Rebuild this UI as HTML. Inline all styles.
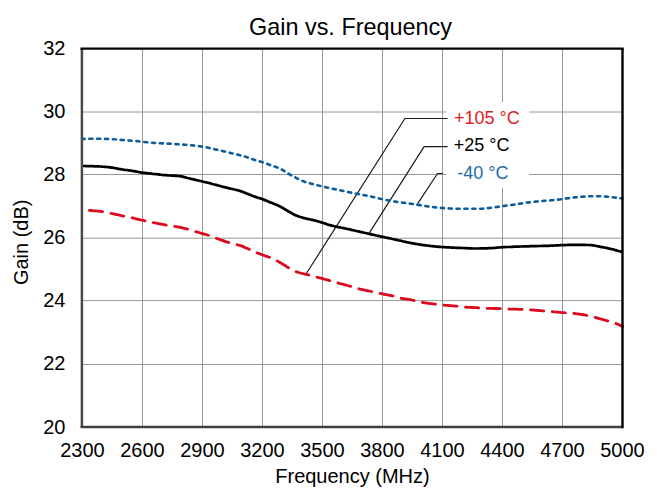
<!DOCTYPE html>
<html><head><meta charset="utf-8">
<style>
html,body{margin:0;padding:0;background:#fff;}
body{width:657px;height:493px;overflow:hidden;}
svg{display:block;}
text{font-family:"Liberation Sans",sans-serif;}
</style></head>
<body>
<svg width="657" height="493" viewBox="0 0 657 493">
<rect x="0" y="0" width="657" height="493" fill="#fff"/>
<g stroke="#989898" stroke-width="1.0" fill="none">
<line x1="142.50" y1="48.70" x2="142.50" y2="427.12"/>
<line x1="202.50" y1="48.70" x2="202.50" y2="427.12"/>
<line x1="262.50" y1="48.70" x2="262.50" y2="427.12"/>
<line x1="322.50" y1="48.70" x2="322.50" y2="427.12"/>
<line x1="382.50" y1="48.70" x2="382.50" y2="427.12"/>
<line x1="442.50" y1="48.70" x2="442.50" y2="427.12"/>
<line x1="502.50" y1="48.70" x2="502.50" y2="427.12"/>
<line x1="562.50" y1="48.70" x2="562.50" y2="427.12"/>
<line x1="82.50" y1="112.00" x2="622.50" y2="112.00"/>
<line x1="82.50" y1="174.50" x2="622.50" y2="174.50"/>
<line x1="82.50" y1="238.20" x2="622.50" y2="238.20"/>
<line x1="82.50" y1="300.60" x2="622.50" y2="300.60"/>
<line x1="82.50" y1="364.50" x2="622.50" y2="364.50"/>
</g>
<rect x="446" y="102" width="83" height="86" fill="#fff"/>
<g fill="none" stroke="#1a1a1a" stroke-width="1.2">
<polyline points="306.5,273.3 404.9,118.5 447.6,118.5"/>
<polyline points="369.2,233.1 424.1,146.7 447.6,146.7"/>
<polyline points="416.7,205.1 437.5,173.5 443,173.5"/>
</g>
<g fill="none" stroke-linejoin="round">
<path d="M82.50,139.00 C82.8,139.0 83.8,139.0 84.5,138.9 C85.2,138.9 85.8,138.9 86.5,138.9 C87.2,138.9 87.8,138.9 88.5,138.9 C89.2,138.8 89.8,138.8 90.5,138.8 C91.2,138.8 91.8,138.8 92.5,138.8 C93.2,138.8 93.8,138.8 94.5,138.8 C95.2,138.8 95.8,138.8 96.5,138.8 C97.2,138.8 97.8,138.8 98.5,138.8 C99.2,138.8 99.8,138.8 100.5,138.8 C101.2,138.8 101.8,138.8 102.5,138.8 C103.2,138.8 103.8,138.8 104.5,138.9 C105.2,138.9 105.8,138.9 106.5,138.9 C107.2,138.9 107.8,139.0 108.5,139.0 C109.2,139.0 109.8,139.1 110.5,139.1 C111.2,139.1 111.8,139.1 112.5,139.2 C113.2,139.2 113.8,139.2 114.5,139.3 C115.2,139.3 115.8,139.4 116.5,139.5 C117.2,139.5 117.8,139.6 118.5,139.7 C119.2,139.7 119.8,139.8 120.5,139.9 C121.2,139.9 121.8,140.0 122.5,140.0 C123.2,140.1 123.8,140.1 124.5,140.2 C125.2,140.2 125.8,140.3 126.5,140.3 C127.2,140.4 127.8,140.4 128.5,140.5 C129.2,140.5 129.8,140.6 130.5,140.6 C131.2,140.7 131.8,140.7 132.5,140.8 C133.2,140.8 133.8,140.9 134.5,141.0 C135.2,141.0 135.8,141.1 136.5,141.1 C137.2,141.2 137.8,141.3 138.5,141.3 C139.2,141.4 139.8,141.5 140.5,141.5 C141.2,141.6 141.8,141.7 142.5,141.8 C143.2,141.8 143.8,141.9 144.5,142.0 C145.2,142.0 145.8,142.1 146.5,142.2 C147.2,142.3 147.8,142.3 148.5,142.4 C149.2,142.5 149.8,142.6 150.5,142.6 C151.2,142.7 151.8,142.8 152.5,142.8 C153.2,142.9 153.8,142.9 154.5,143.0 C155.2,143.0 155.8,143.1 156.5,143.1 C157.2,143.1 157.8,143.2 158.5,143.2 C159.2,143.2 159.8,143.2 160.5,143.3 C161.2,143.3 161.8,143.3 162.5,143.4 C163.2,143.4 163.8,143.4 164.5,143.4 C165.2,143.5 165.8,143.5 166.5,143.5 C167.2,143.6 167.8,143.6 168.5,143.6 C169.2,143.7 169.8,143.7 170.5,143.7 C171.2,143.8 171.8,143.8 172.5,143.9 C173.2,143.9 173.8,144.0 174.5,144.0 C175.2,144.1 175.8,144.1 176.5,144.1 C177.2,144.2 177.8,144.2 178.5,144.3 C179.2,144.3 179.8,144.4 180.5,144.4 C181.2,144.5 181.8,144.5 182.5,144.6 C183.2,144.6 183.8,144.7 184.5,144.7 C185.2,144.8 185.8,144.8 186.5,144.9 C187.2,144.9 187.8,145.0 188.5,145.1 C189.2,145.1 189.8,145.2 190.5,145.2 C191.2,145.3 191.8,145.4 192.5,145.4 C193.2,145.5 193.8,145.6 194.5,145.7 C195.2,145.7 195.8,145.8 196.5,145.9 C197.2,146.0 197.8,146.0 198.5,146.1 C199.2,146.2 199.8,146.3 200.5,146.4 C201.2,146.5 201.8,146.6 202.5,146.7 C203.2,146.8 203.8,146.9 204.5,147.0 C205.2,147.1 205.8,147.3 206.5,147.4 C207.2,147.5 207.8,147.7 208.5,147.8 C209.2,148.0 209.8,148.1 210.5,148.3 C211.2,148.4 211.8,148.6 212.5,148.7 C213.2,148.9 213.8,149.0 214.5,149.2 C215.2,149.3 215.8,149.5 216.5,149.6 C217.2,149.8 217.8,149.9 218.5,150.1 C219.2,150.2 219.8,150.4 220.5,150.5 C221.2,150.7 221.8,150.9 222.5,151.0 C223.2,151.2 223.8,151.3 224.5,151.5 C225.2,151.6 225.8,151.8 226.5,152.0 C227.2,152.1 227.8,152.3 228.5,152.4 C229.2,152.6 229.8,152.8 230.5,152.9 C231.2,153.1 231.8,153.2 232.5,153.4 C233.2,153.6 233.8,153.7 234.5,153.9 C235.2,154.0 235.8,154.2 236.5,154.4 C237.2,154.5 237.8,154.7 238.5,154.9 C239.2,155.0 239.8,155.2 240.5,155.4 C241.2,155.5 241.8,155.7 242.5,155.9 C243.2,156.1 243.8,156.3 244.5,156.5 C245.2,156.6 245.8,156.8 246.5,157.1 C247.2,157.3 247.8,157.5 248.5,157.7 C249.2,158.0 249.8,158.2 250.5,158.5 C251.2,158.7 251.8,158.9 252.5,159.2 C253.2,159.4 253.8,159.6 254.5,159.8 C255.2,160.1 255.8,160.3 256.5,160.5 C257.2,160.6 257.8,160.8 258.5,161.0 C259.2,161.2 259.8,161.4 260.5,161.6 C261.2,161.8 261.8,162.0 262.5,162.2 C263.2,162.4 263.8,162.6 264.5,162.9 C265.2,163.1 265.8,163.4 266.5,163.6 C267.2,163.8 267.8,164.1 268.5,164.3 C269.2,164.6 269.8,164.8 270.5,165.1 C271.2,165.3 271.8,165.5 272.5,165.8 C273.2,166.0 273.8,166.2 274.5,166.5 C275.2,166.7 275.8,166.9 276.5,167.2 C277.2,167.4 277.8,167.7 278.5,167.9 C279.2,168.2 279.8,168.5 280.5,168.8 C281.2,169.2 281.8,169.5 282.5,169.9 C283.2,170.3 283.8,170.7 284.5,171.2 C285.2,171.6 285.8,172.0 286.5,172.4 C287.2,172.9 287.8,173.3 288.5,173.7 C289.2,174.1 289.8,174.5 290.5,174.9 C291.2,175.3 291.8,175.6 292.5,176.0 C293.2,176.3 293.8,176.7 294.5,177.0 C295.2,177.4 295.8,177.7 296.5,178.1 C297.2,178.4 297.8,178.7 298.5,179.0 C299.2,179.4 299.8,179.7 300.5,180.0 C301.2,180.3 301.8,180.6 302.5,180.9 C303.2,181.2 303.8,181.5 304.5,181.7 C305.2,182.0 305.8,182.2 306.5,182.4 C307.2,182.6 307.8,182.7 308.5,182.9 C309.2,183.1 309.8,183.2 310.5,183.4 C311.2,183.6 311.8,183.7 312.5,183.9 C313.2,184.0 313.8,184.2 314.5,184.4 C315.2,184.5 315.8,184.7 316.5,184.9 C317.2,185.1 317.8,185.3 318.5,185.5 C319.2,185.6 319.8,185.8 320.5,186.0 C321.2,186.2 321.8,186.3 322.5,186.5 C323.2,186.7 323.8,186.8 324.5,187.0 C325.2,187.1 325.8,187.3 326.5,187.4 C327.2,187.6 327.8,187.7 328.5,187.8 C329.2,188.0 329.8,188.1 330.5,188.3 C331.2,188.4 331.8,188.5 332.5,188.7 C333.2,188.8 333.8,189.0 334.5,189.1 C335.2,189.2 335.8,189.4 336.5,189.5 C337.2,189.7 337.8,189.8 338.5,190.0 C339.2,190.1 339.8,190.2 340.5,190.4 C341.2,190.5 341.8,190.7 342.5,190.8 C343.2,191.0 343.8,191.1 344.5,191.2 C345.2,191.4 345.8,191.5 346.5,191.7 C347.2,191.8 347.8,192.0 348.5,192.1 C349.2,192.2 349.8,192.4 350.5,192.5 C351.2,192.6 351.8,192.8 352.5,192.9 C353.2,193.0 353.8,193.2 354.5,193.3 C355.2,193.4 355.8,193.5 356.5,193.7 C357.2,193.8 357.8,193.9 358.5,194.0 C359.2,194.2 359.8,194.3 360.5,194.4 C361.2,194.5 361.8,194.7 362.5,194.8 C363.2,194.9 363.8,195.1 364.5,195.2 C365.2,195.3 365.8,195.4 366.5,195.6 C367.2,195.7 367.8,195.8 368.5,196.0 C369.2,196.1 369.8,196.3 370.5,196.4 C371.2,196.6 371.8,196.7 372.5,196.9 C373.2,197.0 373.8,197.2 374.5,197.3 C375.2,197.5 375.8,197.7 376.5,197.8 C377.2,198.0 377.8,198.1 378.5,198.3 C379.2,198.5 379.8,198.6 380.5,198.8 C381.2,198.9 381.8,199.1 382.5,199.2 C383.2,199.3 383.8,199.5 384.5,199.6 C385.2,199.8 385.8,199.9 386.5,200.0 C387.2,200.2 387.8,200.3 388.5,200.4 C389.2,200.6 389.8,200.7 390.5,200.8 C391.2,200.9 391.8,201.1 392.5,201.2 C393.2,201.3 393.8,201.4 394.5,201.5 C395.2,201.6 395.8,201.7 396.5,201.8 C397.2,201.9 397.8,202.0 398.5,202.1 C399.2,202.2 399.8,202.3 400.5,202.4 C401.2,202.5 401.8,202.5 402.5,202.6 C403.2,202.7 403.8,202.8 404.5,202.9 C405.2,203.0 405.8,203.0 406.5,203.1 C407.2,203.2 407.8,203.3 408.5,203.4 C409.2,203.5 409.8,203.6 410.5,203.7 C411.2,203.8 411.8,203.9 412.5,204.0 C413.2,204.1 413.8,204.2 414.5,204.3 C415.2,204.4 415.8,204.5 416.5,204.6 C417.2,204.8 417.8,204.9 418.5,205.0 C419.2,205.1 419.8,205.2 420.5,205.3 C421.2,205.4 421.8,205.5 422.5,205.6 C423.2,205.7 423.8,205.8 424.5,205.9 C425.2,206.0 425.8,206.1 426.5,206.2 C427.2,206.3 427.8,206.4 428.5,206.5 C429.2,206.6 429.8,206.7 430.5,206.8 C431.2,206.8 431.8,206.9 432.5,207.0 C433.2,207.1 433.8,207.2 434.5,207.3 C435.2,207.4 435.8,207.4 436.5,207.5 C437.2,207.6 437.8,207.7 438.5,207.7 C439.2,207.8 439.8,207.8 440.5,207.9 C441.2,207.9 441.8,208.0 442.5,208.0 C443.2,208.1 443.8,208.1 444.5,208.2 C445.2,208.2 445.8,208.2 446.5,208.3 C447.2,208.3 447.8,208.4 448.5,208.4 C449.2,208.4 449.8,208.5 450.5,208.5 C451.2,208.6 451.8,208.6 452.5,208.6 C453.2,208.6 453.8,208.7 454.5,208.7 C455.2,208.7 455.8,208.7 456.5,208.8 C457.2,208.8 457.8,208.8 458.5,208.8 C459.2,208.8 459.8,208.8 460.5,208.8 C461.2,208.8 461.8,208.8 462.5,208.8 C463.2,208.8 463.8,208.8 464.5,208.8 C465.2,208.8 465.8,208.8 466.5,208.8 C467.2,208.8 467.8,208.8 468.5,208.8 C469.2,208.8 469.8,208.8 470.5,208.8 C471.2,208.8 471.8,208.8 472.5,208.8 C473.2,208.8 473.8,208.8 474.5,208.8 C475.2,208.8 475.8,208.8 476.5,208.8 C477.2,208.8 477.8,208.8 478.5,208.8 C479.2,208.8 479.8,208.8 480.5,208.8 C481.2,208.8 481.8,208.8 482.5,208.7 C483.2,208.7 483.8,208.6 484.5,208.5 C485.2,208.5 485.8,208.4 486.5,208.3 C487.2,208.2 487.8,208.1 488.5,208.1 C489.2,208.0 489.8,207.9 490.5,207.8 C491.2,207.8 491.8,207.7 492.5,207.6 C493.2,207.5 493.8,207.4 494.5,207.3 C495.2,207.2 495.8,207.1 496.5,207.0 C497.2,206.9 497.8,206.8 498.5,206.7 C499.2,206.7 499.8,206.6 500.5,206.5 C501.2,206.4 501.8,206.3 502.5,206.2 C503.2,206.1 503.8,206.0 504.5,205.9 C505.2,205.8 505.8,205.7 506.5,205.6 C507.2,205.6 507.8,205.5 508.5,205.4 C509.2,205.3 509.8,205.2 510.5,205.1 C511.2,205.0 511.8,204.9 512.5,204.9 C513.2,204.8 513.8,204.7 514.5,204.6 C515.2,204.5 515.8,204.4 516.5,204.3 C517.2,204.2 517.8,204.1 518.5,203.9 C519.2,203.8 519.8,203.7 520.5,203.6 C521.2,203.5 521.8,203.4 522.5,203.3 C523.2,203.2 523.8,203.1 524.5,203.0 C525.2,202.9 525.8,202.8 526.5,202.7 C527.2,202.6 527.8,202.5 528.5,202.4 C529.2,202.4 529.8,202.3 530.5,202.2 C531.2,202.1 531.8,202.0 532.5,202.0 C533.2,201.9 533.8,201.8 534.5,201.8 C535.2,201.7 535.8,201.6 536.5,201.5 C537.2,201.5 537.8,201.4 538.5,201.3 C539.2,201.3 539.8,201.2 540.5,201.2 C541.2,201.1 541.8,201.0 542.5,201.0 C543.2,200.9 543.8,200.9 544.5,200.8 C545.2,200.8 545.8,200.7 546.5,200.7 C547.2,200.6 547.8,200.6 548.5,200.5 C549.2,200.5 549.8,200.5 550.5,200.4 C551.2,200.3 551.8,200.3 552.5,200.2 C553.2,200.2 553.8,200.1 554.5,200.1 C555.2,200.0 555.8,199.9 556.5,199.8 C557.2,199.7 557.8,199.6 558.5,199.6 C559.2,199.5 559.8,199.4 560.5,199.3 C561.2,199.2 561.8,199.1 562.5,199.0 C563.2,198.9 563.8,198.8 564.5,198.7 C565.2,198.6 565.8,198.5 566.5,198.4 C567.2,198.3 567.8,198.2 568.5,198.2 C569.2,198.1 569.8,198.0 570.5,197.9 C571.2,197.8 571.8,197.7 572.5,197.7 C573.2,197.6 573.8,197.5 574.5,197.4 C575.2,197.4 575.8,197.3 576.5,197.3 C577.2,197.2 577.8,197.1 578.5,197.1 C579.2,197.0 579.8,196.9 580.5,196.9 C581.2,196.8 581.8,196.8 582.5,196.7 C583.2,196.7 583.8,196.6 584.5,196.6 C585.2,196.5 585.8,196.5 586.5,196.4 C587.2,196.4 587.8,196.4 588.5,196.3 C589.2,196.3 589.8,196.3 590.5,196.3 C591.2,196.3 591.8,196.3 592.5,196.3 C593.2,196.3 593.8,196.2 594.5,196.2 C595.2,196.2 595.8,196.2 596.5,196.2 C597.2,196.2 597.8,196.2 598.5,196.2 C599.2,196.2 599.8,196.2 600.5,196.2 C601.2,196.2 601.8,196.2 602.5,196.3 C603.2,196.3 603.8,196.4 604.5,196.4 C605.2,196.5 605.8,196.6 606.5,196.6 C607.2,196.7 607.8,196.8 608.5,196.8 C609.2,196.9 609.8,197.0 610.5,197.0 C611.2,197.1 611.8,197.2 612.5,197.3 C613.2,197.3 613.8,197.4 614.5,197.5 C615.2,197.6 615.8,197.6 616.5,197.7 C617.2,197.8 617.8,197.9 618.5,198.0 C619.2,198.1 619.8,198.2 620.5,198.3 C621.2,198.4 622.2,198.5 622.5,198.6" stroke="#0c5c9e" stroke-width="2.6" stroke-dasharray="3.1 4.75" stroke-dashoffset="1.0" stroke-linecap="round"/>
<path d="M82.50,166.00 C82.8,166.0 83.8,166.0 84.5,166.0 C85.2,166.0 85.8,166.0 86.5,166.1 C87.2,166.1 87.8,166.1 88.5,166.1 C89.2,166.1 89.8,166.1 90.5,166.2 C91.2,166.2 91.8,166.2 92.5,166.2 C93.2,166.2 93.8,166.3 94.5,166.3 C95.2,166.3 95.8,166.3 96.5,166.4 C97.2,166.4 97.8,166.4 98.5,166.4 C99.2,166.5 99.8,166.5 100.5,166.5 C101.2,166.6 101.8,166.6 102.5,166.7 C103.2,166.7 103.8,166.8 104.5,166.8 C105.2,166.9 105.8,166.9 106.5,167.0 C107.2,167.0 107.8,167.1 108.5,167.2 C109.2,167.3 109.8,167.3 110.5,167.4 C111.2,167.5 111.8,167.6 112.5,167.7 C113.2,167.8 113.8,167.9 114.5,168.0 C115.2,168.1 115.8,168.3 116.5,168.4 C117.2,168.6 117.8,168.7 118.5,168.8 C119.2,169.0 119.8,169.1 120.5,169.2 C121.2,169.3 121.8,169.4 122.5,169.5 C123.2,169.6 123.8,169.7 124.5,169.8 C125.2,169.8 125.8,169.9 126.5,170.0 C127.2,170.1 127.8,170.2 128.5,170.3 C129.2,170.4 129.8,170.5 130.5,170.6 C131.2,170.7 131.8,170.8 132.5,170.9 C133.2,171.0 133.8,171.1 134.5,171.3 C135.2,171.4 135.8,171.5 136.5,171.6 C137.2,171.7 137.8,171.9 138.5,172.0 C139.2,172.1 139.8,172.2 140.5,172.4 C141.2,172.5 141.8,172.6 142.5,172.7 C143.2,172.8 143.8,172.8 144.5,172.9 C145.2,173.0 145.8,173.1 146.5,173.1 C147.2,173.2 147.8,173.3 148.5,173.3 C149.2,173.4 149.8,173.5 150.5,173.5 C151.2,173.6 151.8,173.7 152.5,173.8 C153.2,173.8 153.8,173.9 154.5,174.0 C155.2,174.1 155.8,174.1 156.5,174.2 C157.2,174.3 157.8,174.4 158.5,174.4 C159.2,174.5 159.8,174.6 160.5,174.7 C161.2,174.7 161.8,174.8 162.5,174.9 C163.2,174.9 163.8,175.0 164.5,175.1 C165.2,175.1 165.8,175.2 166.5,175.2 C167.2,175.3 167.8,175.3 168.5,175.4 C169.2,175.4 169.8,175.4 170.5,175.5 C171.2,175.5 171.8,175.6 172.5,175.6 C173.2,175.6 173.8,175.7 174.5,175.7 C175.2,175.8 175.8,175.8 176.5,175.9 C177.2,175.9 177.8,176.0 178.5,176.0 C179.2,176.1 179.8,176.2 180.5,176.3 C181.2,176.4 181.8,176.5 182.5,176.6 C183.2,176.8 183.8,176.9 184.5,177.1 C185.2,177.3 185.8,177.5 186.5,177.7 C187.2,177.9 187.8,178.0 188.5,178.2 C189.2,178.4 189.8,178.6 190.5,178.7 C191.2,178.9 191.8,179.0 192.5,179.2 C193.2,179.3 193.8,179.5 194.5,179.6 C195.2,179.8 195.8,179.9 196.5,180.1 C197.2,180.2 197.8,180.4 198.5,180.5 C199.2,180.7 199.8,180.8 200.5,181.0 C201.2,181.2 201.8,181.3 202.5,181.5 C203.2,181.6 203.8,181.8 204.5,182.0 C205.2,182.1 205.8,182.3 206.5,182.4 C207.2,182.6 207.8,182.8 208.5,182.9 C209.2,183.1 209.8,183.3 210.5,183.4 C211.2,183.6 211.8,183.8 212.5,184.0 C213.2,184.1 213.8,184.3 214.5,184.5 C215.2,184.6 215.8,184.8 216.5,185.0 C217.2,185.2 217.8,185.4 218.5,185.5 C219.2,185.7 219.8,185.9 220.5,186.1 C221.2,186.3 221.8,186.5 222.5,186.6 C223.2,186.8 223.8,187.0 224.5,187.2 C225.2,187.3 225.8,187.5 226.5,187.7 C227.2,187.8 227.8,188.0 228.5,188.1 C229.2,188.3 229.8,188.4 230.5,188.6 C231.2,188.7 231.8,188.9 232.5,189.0 C233.2,189.2 233.8,189.3 234.5,189.5 C235.2,189.6 235.8,189.8 236.5,189.9 C237.2,190.1 237.8,190.3 238.5,190.5 C239.2,190.7 239.8,190.8 240.5,191.1 C241.2,191.3 241.8,191.5 242.5,191.8 C243.2,192.0 243.8,192.3 244.5,192.5 C245.2,192.8 245.8,193.1 246.5,193.4 C247.2,193.7 247.8,193.9 248.5,194.2 C249.2,194.5 249.8,194.7 250.5,195.0 C251.2,195.3 251.8,195.5 252.5,195.8 C253.2,196.0 253.8,196.3 254.5,196.5 C255.2,196.8 255.8,197.0 256.5,197.2 C257.2,197.4 257.8,197.6 258.5,197.8 C259.2,198.0 259.8,198.2 260.5,198.4 C261.2,198.6 261.8,198.9 262.5,199.1 C263.2,199.3 263.8,199.6 264.5,199.9 C265.2,200.1 265.8,200.4 266.5,200.7 C267.2,201.0 267.8,201.3 268.5,201.6 C269.2,201.8 269.8,202.1 270.5,202.4 C271.2,202.7 271.8,202.9 272.5,203.2 C273.2,203.5 273.8,203.7 274.5,204.0 C275.2,204.3 275.8,204.5 276.5,204.8 C277.2,205.1 277.8,205.4 278.5,205.7 C279.2,206.0 279.8,206.3 280.5,206.7 C281.2,207.0 281.8,207.4 282.5,207.8 C283.2,208.1 283.8,208.6 284.5,209.0 C285.2,209.4 285.8,209.8 286.5,210.2 C287.2,210.6 287.8,211.1 288.5,211.5 C289.2,211.8 289.8,212.2 290.5,212.6 C291.2,212.9 291.8,213.3 292.5,213.7 C293.2,214.0 293.8,214.4 294.5,214.7 C295.2,215.0 295.8,215.3 296.5,215.6 C297.2,215.9 297.8,216.1 298.5,216.4 C299.2,216.6 299.8,216.8 300.5,217.0 C301.2,217.2 301.8,217.4 302.5,217.6 C303.2,217.8 303.8,218.0 304.5,218.2 C305.2,218.3 305.8,218.5 306.5,218.7 C307.2,218.8 307.8,219.0 308.5,219.1 C309.2,219.2 309.8,219.4 310.5,219.5 C311.2,219.6 311.8,219.8 312.5,219.9 C313.2,220.1 313.8,220.2 314.5,220.4 C315.2,220.5 315.8,220.7 316.5,220.9 C317.2,221.1 317.8,221.3 318.5,221.5 C319.2,221.7 319.8,221.9 320.5,222.1 C321.2,222.3 321.8,222.5 322.5,222.7 C323.2,222.9 323.8,223.1 324.5,223.4 C325.2,223.6 325.8,223.8 326.5,224.1 C327.2,224.3 327.8,224.6 328.5,224.8 C329.2,225.0 329.8,225.2 330.5,225.3 C331.2,225.5 331.8,225.7 332.5,225.8 C333.2,226.0 333.8,226.1 334.5,226.3 C335.2,226.4 335.8,226.6 336.5,226.7 C337.2,226.8 337.8,227.0 338.5,227.1 C339.2,227.2 339.8,227.3 340.5,227.5 C341.2,227.6 341.8,227.7 342.5,227.9 C343.2,228.0 343.8,228.1 344.5,228.3 C345.2,228.4 345.8,228.6 346.5,228.7 C347.2,228.9 347.8,229.0 348.5,229.2 C349.2,229.3 349.8,229.5 350.5,229.6 C351.2,229.8 351.8,229.9 352.5,230.1 C353.2,230.2 353.8,230.4 354.5,230.5 C355.2,230.7 355.8,230.8 356.5,231.0 C357.2,231.1 357.8,231.3 358.5,231.4 C359.2,231.6 359.8,231.7 360.5,231.9 C361.2,232.0 361.8,232.2 362.5,232.3 C363.2,232.5 363.8,232.6 364.5,232.8 C365.2,232.9 365.8,233.1 366.5,233.2 C367.2,233.4 367.8,233.5 368.5,233.7 C369.2,233.8 369.8,234.0 370.5,234.1 C371.2,234.3 371.8,234.4 372.5,234.6 C373.2,234.7 373.8,234.9 374.5,235.0 C375.2,235.2 375.8,235.3 376.5,235.5 C377.2,235.6 377.8,235.8 378.5,235.9 C379.2,236.1 379.8,236.2 380.5,236.4 C381.2,236.5 381.8,236.7 382.5,236.8 C383.2,236.9 383.8,237.1 384.5,237.2 C385.2,237.4 385.8,237.5 386.5,237.7 C387.2,237.8 387.8,238.0 388.5,238.1 C389.2,238.2 389.8,238.4 390.5,238.5 C391.2,238.7 391.8,238.8 392.5,239.0 C393.2,239.1 393.8,239.2 394.5,239.4 C395.2,239.5 395.8,239.7 396.5,239.8 C397.2,240.0 397.8,240.1 398.5,240.3 C399.2,240.4 399.8,240.6 400.5,240.7 C401.2,240.9 401.8,241.1 402.5,241.2 C403.2,241.4 403.8,241.5 404.5,241.7 C405.2,241.8 405.8,241.9 406.5,242.1 C407.2,242.2 407.8,242.4 408.5,242.5 C409.2,242.6 409.8,242.8 410.5,242.9 C411.2,243.0 411.8,243.1 412.5,243.3 C413.2,243.4 413.8,243.5 414.5,243.6 C415.2,243.8 415.8,243.9 416.5,244.0 C417.2,244.1 417.8,244.2 418.5,244.3 C419.2,244.4 419.8,244.6 420.5,244.7 C421.2,244.8 421.8,244.9 422.5,245.0 C423.2,245.1 423.8,245.1 424.5,245.2 C425.2,245.3 425.8,245.4 426.5,245.5 C427.2,245.6 427.8,245.7 428.5,245.7 C429.2,245.8 429.8,245.9 430.5,246.0 C431.2,246.0 431.8,246.1 432.5,246.2 C433.2,246.3 433.8,246.3 434.5,246.4 C435.2,246.5 435.8,246.5 436.5,246.6 C437.2,246.7 437.8,246.7 438.5,246.8 C439.2,246.8 439.8,246.9 440.5,246.9 C441.2,247.0 441.8,247.0 442.5,247.1 C443.2,247.1 443.8,247.2 444.5,247.2 C445.2,247.2 445.8,247.3 446.5,247.3 C447.2,247.3 447.8,247.4 448.5,247.4 C449.2,247.4 449.8,247.5 450.5,247.5 C451.2,247.5 451.8,247.6 452.5,247.6 C453.2,247.6 453.8,247.6 454.5,247.7 C455.2,247.7 455.8,247.7 456.5,247.8 C457.2,247.8 457.8,247.8 458.5,247.8 C459.2,247.9 459.8,247.9 460.5,247.9 C461.2,248.0 461.8,248.0 462.5,248.0 C463.2,248.1 463.8,248.1 464.5,248.1 C465.2,248.2 465.8,248.2 466.5,248.2 C467.2,248.3 467.8,248.3 468.5,248.3 C469.2,248.4 469.8,248.4 470.5,248.4 C471.2,248.4 471.8,248.5 472.5,248.5 C473.2,248.5 473.8,248.5 474.5,248.5 C475.2,248.5 475.8,248.5 476.5,248.5 C477.2,248.5 477.8,248.5 478.5,248.5 C479.2,248.5 479.8,248.5 480.5,248.4 C481.2,248.4 481.8,248.4 482.5,248.4 C483.2,248.4 483.8,248.4 484.5,248.4 C485.2,248.3 485.8,248.3 486.5,248.3 C487.2,248.3 487.8,248.3 488.5,248.2 C489.2,248.2 489.8,248.2 490.5,248.2 C491.2,248.2 491.8,248.1 492.5,248.1 C493.2,248.0 493.8,248.0 494.5,247.9 C495.2,247.9 495.8,247.8 496.5,247.7 C497.2,247.7 497.8,247.6 498.5,247.5 C499.2,247.5 499.8,247.4 500.5,247.4 C501.2,247.3 501.8,247.3 502.5,247.2 C503.2,247.2 503.8,247.2 504.5,247.1 C505.2,247.1 505.8,247.1 506.5,247.0 C507.2,247.0 507.8,247.0 508.5,247.0 C509.2,246.9 509.8,246.9 510.5,246.9 C511.2,246.8 511.8,246.8 512.5,246.8 C513.2,246.8 513.8,246.8 514.5,246.7 C515.2,246.7 515.8,246.7 516.5,246.7 C517.2,246.6 517.8,246.6 518.5,246.6 C519.2,246.6 519.8,246.6 520.5,246.5 C521.2,246.5 521.8,246.5 522.5,246.5 C523.2,246.5 523.8,246.4 524.5,246.4 C525.2,246.4 525.8,246.4 526.5,246.4 C527.2,246.3 527.8,246.3 528.5,246.3 C529.2,246.3 529.8,246.3 530.5,246.2 C531.2,246.2 531.8,246.2 532.5,246.2 C533.2,246.2 533.8,246.2 534.5,246.1 C535.2,246.1 535.8,246.1 536.5,246.1 C537.2,246.1 537.8,246.1 538.5,246.0 C539.2,246.0 539.8,246.0 540.5,246.0 C541.2,246.0 541.8,246.0 542.5,245.9 C543.2,245.9 543.8,245.9 544.5,245.9 C545.2,245.9 545.8,245.8 546.5,245.8 C547.2,245.8 547.8,245.8 548.5,245.8 C549.2,245.7 549.8,245.7 550.5,245.7 C551.2,245.7 551.8,245.6 552.5,245.6 C553.2,245.6 553.8,245.5 554.5,245.5 C555.2,245.5 555.8,245.4 556.5,245.4 C557.2,245.4 557.8,245.3 558.5,245.3 C559.2,245.3 559.8,245.2 560.5,245.2 C561.2,245.2 561.8,245.1 562.5,245.1 C563.2,245.1 563.8,245.1 564.5,245.1 C565.2,245.0 565.8,245.0 566.5,245.0 C567.2,245.0 567.8,244.9 568.5,244.9 C569.2,244.9 569.8,244.9 570.5,244.9 C571.2,244.8 571.8,244.8 572.5,244.8 C573.2,244.8 573.8,244.8 574.5,244.8 C575.2,244.8 575.8,244.8 576.5,244.8 C577.2,244.8 577.8,244.8 578.5,244.8 C579.2,244.8 579.8,244.8 580.5,244.8 C581.2,244.9 581.8,244.9 582.5,244.9 C583.2,244.9 583.8,244.9 584.5,244.9 C585.2,244.9 585.8,245.0 586.5,245.0 C587.2,245.0 587.8,245.0 588.5,245.0 C589.2,245.1 589.8,245.1 590.5,245.1 C591.2,245.2 591.8,245.2 592.5,245.3 C593.2,245.4 593.8,245.5 594.5,245.6 C595.2,245.7 595.8,245.9 596.5,246.0 C597.2,246.1 597.8,246.3 598.5,246.4 C599.2,246.5 599.8,246.7 600.5,246.8 C601.2,246.9 601.8,247.0 602.5,247.2 C603.2,247.3 603.8,247.4 604.5,247.5 C605.2,247.7 605.8,247.8 606.5,247.9 C607.2,248.1 607.8,248.2 608.5,248.4 C609.2,248.5 609.8,248.7 610.5,248.8 C611.2,249.0 611.8,249.1 612.5,249.3 C613.2,249.5 613.8,249.7 614.5,249.8 C615.2,250.0 615.8,250.2 616.5,250.4 C617.2,250.6 617.8,250.8 618.5,251.0 C619.2,251.2 619.8,251.4 620.5,251.6 C621.2,251.9 622.2,252.2 622.5,252.3" stroke="#000" stroke-width="2.7"/>
<path d="M82.50,209.70 C82.8,209.7 83.8,209.8 84.5,209.9 C85.2,209.9 85.8,210.0 86.5,210.1 C87.2,210.1 87.8,210.2 88.5,210.2 C89.2,210.3 89.8,210.4 90.5,210.4 C91.2,210.5 91.8,210.5 92.5,210.6 C93.2,210.6 93.8,210.7 94.5,210.8 C95.2,210.8 95.8,210.9 96.5,210.9 C97.2,211.0 97.8,211.1 98.5,211.2 C99.2,211.2 99.8,211.3 100.5,211.4 C101.2,211.5 101.8,211.5 102.5,211.6 C103.2,211.7 103.8,211.8 104.5,212.0 C105.2,212.1 105.8,212.2 106.5,212.4 C107.2,212.5 107.8,212.7 108.5,212.8 C109.2,213.0 109.8,213.1 110.5,213.3 C111.2,213.4 111.8,213.6 112.5,213.7 C113.2,213.9 113.8,214.0 114.5,214.1 C115.2,214.3 115.8,214.4 116.5,214.5 C117.2,214.7 117.8,214.8 118.5,214.9 C119.2,215.1 119.8,215.2 120.5,215.4 C121.2,215.5 121.8,215.6 122.5,215.8 C123.2,215.9 123.8,216.0 124.5,216.2 C125.2,216.3 125.8,216.5 126.5,216.6 C127.2,216.8 127.8,216.9 128.5,217.1 C129.2,217.2 129.8,217.4 130.5,217.5 C131.2,217.7 131.8,217.8 132.5,218.0 C133.2,218.1 133.8,218.3 134.5,218.4 C135.2,218.6 135.8,218.7 136.5,218.9 C137.2,219.0 137.8,219.2 138.5,219.3 C139.2,219.5 139.8,219.6 140.5,219.8 C141.2,219.9 141.8,220.1 142.5,220.2 C143.2,220.4 143.8,220.5 144.5,220.7 C145.2,220.8 145.8,220.9 146.5,221.1 C147.2,221.2 147.8,221.4 148.5,221.5 C149.2,221.7 149.8,221.8 150.5,222.0 C151.2,222.1 151.8,222.2 152.5,222.4 C153.2,222.5 153.8,222.7 154.5,222.8 C155.2,222.9 155.8,223.1 156.5,223.2 C157.2,223.3 157.8,223.5 158.5,223.6 C159.2,223.7 159.8,223.9 160.5,224.0 C161.2,224.1 161.8,224.3 162.5,224.4 C163.2,224.5 163.8,224.7 164.5,224.8 C165.2,224.9 165.8,225.0 166.5,225.1 C167.2,225.3 167.8,225.4 168.5,225.5 C169.2,225.6 169.8,225.7 170.5,225.8 C171.2,225.9 171.8,226.0 172.5,226.1 C173.2,226.2 173.8,226.3 174.5,226.4 C175.2,226.5 175.8,226.6 176.5,226.7 C177.2,226.8 177.8,226.9 178.5,227.0 C179.2,227.1 179.8,227.3 180.5,227.4 C181.2,227.5 181.8,227.7 182.5,227.8 C183.2,228.0 183.8,228.1 184.5,228.3 C185.2,228.5 185.8,228.6 186.5,228.8 C187.2,229.0 187.8,229.1 188.5,229.3 C189.2,229.5 189.8,229.7 190.5,229.9 C191.2,230.1 191.8,230.3 192.5,230.6 C193.2,230.8 193.8,231.0 194.5,231.2 C195.2,231.4 195.8,231.6 196.5,231.8 C197.2,232.1 197.8,232.2 198.5,232.4 C199.2,232.6 199.8,232.8 200.5,233.0 C201.2,233.2 201.8,233.4 202.5,233.6 C203.2,233.8 203.8,233.9 204.5,234.1 C205.2,234.3 205.8,234.5 206.5,234.7 C207.2,234.9 207.8,235.1 208.5,235.3 C209.2,235.6 209.8,235.8 210.5,236.0 C211.2,236.3 211.8,236.5 212.5,236.8 C213.2,237.0 213.8,237.3 214.5,237.5 C215.2,237.8 215.8,238.0 216.5,238.3 C217.2,238.5 217.8,238.8 218.5,239.0 C219.2,239.2 219.8,239.5 220.5,239.7 C221.2,240.0 221.8,240.2 222.5,240.4 C223.2,240.7 223.8,240.9 224.5,241.1 C225.2,241.4 225.8,241.6 226.5,241.8 C227.2,242.0 227.8,242.2 228.5,242.4 C229.2,242.7 229.8,242.9 230.5,243.0 C231.2,243.2 231.8,243.4 232.5,243.6 C233.2,243.7 233.8,243.9 234.5,244.0 C235.2,244.2 235.8,244.4 236.5,244.5 C237.2,244.7 237.8,244.9 238.5,245.1 C239.2,245.2 239.8,245.4 240.5,245.7 C241.2,245.9 241.8,246.1 242.5,246.4 C243.2,246.7 243.8,247.0 244.5,247.2 C245.2,247.5 245.8,247.8 246.5,248.1 C247.2,248.4 247.8,248.7 248.5,249.0 C249.2,249.3 249.8,249.6 250.5,249.9 C251.2,250.2 251.8,250.5 252.5,250.8 C253.2,251.1 253.8,251.4 254.5,251.7 C255.2,252.0 255.8,252.3 256.5,252.6 C257.2,252.9 257.8,253.1 258.5,253.4 C259.2,253.7 259.8,253.9 260.5,254.2 C261.2,254.4 261.8,254.7 262.5,254.9 C263.2,255.1 263.8,255.4 264.5,255.6 C265.2,255.8 265.8,256.1 266.5,256.3 C267.2,256.5 267.8,256.7 268.5,257.0 C269.2,257.2 269.8,257.4 270.5,257.7 C271.2,258.0 271.8,258.2 272.5,258.5 C273.2,258.8 273.8,259.1 274.5,259.5 C275.2,259.8 275.8,260.2 276.5,260.5 C277.2,260.9 277.8,261.3 278.5,261.7 C279.2,262.0 279.8,262.4 280.5,262.8 C281.2,263.2 281.8,263.6 282.5,264.0 C283.2,264.4 283.8,264.9 284.5,265.3 C285.2,265.7 285.8,266.1 286.5,266.6 C287.2,267.0 287.8,267.4 288.5,267.8 C289.2,268.2 289.8,268.5 290.5,268.9 C291.2,269.2 291.8,269.6 292.5,269.9 C293.2,270.2 293.8,270.6 294.5,270.9 C295.2,271.2 295.8,271.5 296.5,271.8 C297.2,272.0 297.8,272.2 298.5,272.5 C299.2,272.7 299.8,272.8 300.5,273.0 C301.2,273.2 301.8,273.3 302.5,273.5 C303.2,273.7 303.8,273.8 304.5,274.0 C305.2,274.1 305.8,274.3 306.5,274.5 C307.2,274.6 307.8,274.8 308.5,274.9 C309.2,275.1 309.8,275.3 310.5,275.4 C311.2,275.6 311.8,275.8 312.5,276.0 C313.2,276.1 313.8,276.3 314.5,276.5 C315.2,276.7 315.8,276.9 316.5,277.0 C317.2,277.2 317.8,277.4 318.5,277.6 C319.2,277.8 319.8,278.0 320.5,278.1 C321.2,278.3 321.8,278.5 322.5,278.6 C323.2,278.8 323.8,279.0 324.5,279.2 C325.2,279.3 325.8,279.5 326.5,279.7 C327.2,279.8 327.8,280.0 328.5,280.2 C329.2,280.4 329.8,280.6 330.5,280.7 C331.2,280.9 331.8,281.1 332.5,281.3 C333.2,281.5 333.8,281.8 334.5,282.0 C335.2,282.2 335.8,282.4 336.5,282.6 C337.2,282.8 337.8,282.9 338.5,283.1 C339.2,283.3 339.8,283.5 340.5,283.7 C341.2,283.8 341.8,284.0 342.5,284.2 C343.2,284.4 343.8,284.5 344.5,284.7 C345.2,284.9 345.8,285.1 346.5,285.2 C347.2,285.4 347.8,285.6 348.5,285.8 C349.2,286.0 349.8,286.2 350.5,286.3 C351.2,286.5 351.8,286.7 352.5,286.9 C353.2,287.1 353.8,287.3 354.5,287.5 C355.2,287.7 355.8,287.9 356.5,288.1 C357.2,288.3 357.8,288.5 358.5,288.7 C359.2,288.8 359.8,289.0 360.5,289.2 C361.2,289.3 361.8,289.5 362.5,289.6 C363.2,289.8 363.8,289.9 364.5,290.0 C365.2,290.2 365.8,290.3 366.5,290.5 C367.2,290.6 367.8,290.7 368.5,290.9 C369.2,291.0 369.8,291.1 370.5,291.3 C371.2,291.4 371.8,291.6 372.5,291.7 C373.2,291.9 373.8,292.0 374.5,292.2 C375.2,292.3 375.8,292.4 376.5,292.6 C377.2,292.7 377.8,292.9 378.5,293.0 C379.2,293.2 379.8,293.3 380.5,293.5 C381.2,293.6 381.8,293.8 382.5,293.9 C383.2,294.0 383.8,294.2 384.5,294.3 C385.2,294.4 385.8,294.5 386.5,294.7 C387.2,294.8 387.8,294.9 388.5,295.1 C389.2,295.2 389.8,295.3 390.5,295.4 C391.2,295.6 391.8,295.7 392.5,295.9 C393.2,296.0 393.8,296.2 394.5,296.4 C395.2,296.6 395.8,296.8 396.5,297.0 C397.2,297.2 397.8,297.4 398.5,297.6 C399.2,297.8 399.8,298.0 400.5,298.1 C401.2,298.3 401.8,298.4 402.5,298.5 C403.2,298.6 403.8,298.7 404.5,298.8 C405.2,298.9 405.8,299.0 406.5,299.1 C407.2,299.2 407.8,299.3 408.5,299.4 C409.2,299.5 409.8,299.6 410.5,299.7 C411.2,299.8 411.8,300.0 412.5,300.1 C413.2,300.2 413.8,300.4 414.5,300.6 C415.2,300.8 415.8,301.0 416.5,301.2 C417.2,301.4 417.8,301.6 418.5,301.8 C419.2,301.9 419.8,302.1 420.5,302.2 C421.2,302.3 421.8,302.4 422.5,302.5 C423.2,302.6 423.8,302.7 424.5,302.8 C425.2,302.9 425.8,303.0 426.5,303.1 C427.2,303.2 427.8,303.3 428.5,303.3 C429.2,303.4 429.8,303.5 430.5,303.6 C431.2,303.7 431.8,303.7 432.5,303.8 C433.2,303.9 433.8,304.0 434.5,304.1 C435.2,304.1 435.8,304.2 436.5,304.3 C437.2,304.4 437.8,304.5 438.5,304.6 C439.2,304.7 439.8,304.8 440.5,304.8 C441.2,304.9 441.8,305.0 442.5,305.1 C443.2,305.1 443.8,305.2 444.5,305.2 C445.2,305.3 445.8,305.3 446.5,305.4 C447.2,305.5 447.8,305.5 448.5,305.5 C449.2,305.6 449.8,305.6 450.5,305.7 C451.2,305.7 451.8,305.8 452.5,305.8 C453.2,305.9 453.8,305.9 454.5,306.0 C455.2,306.0 455.8,306.1 456.5,306.2 C457.2,306.2 457.8,306.3 458.5,306.4 C459.2,306.4 459.8,306.5 460.5,306.6 C461.2,306.7 461.8,306.8 462.5,306.9 C463.2,306.9 463.8,307.0 464.5,307.1 C465.2,307.1 465.8,307.2 466.5,307.2 C467.2,307.3 467.8,307.3 468.5,307.3 C469.2,307.4 469.8,307.4 470.5,307.4 C471.2,307.5 471.8,307.5 472.5,307.5 C473.2,307.6 473.8,307.6 474.5,307.6 C475.2,307.7 475.8,307.7 476.5,307.7 C477.2,307.7 477.8,307.8 478.5,307.8 C479.2,307.9 479.8,307.9 480.5,307.9 C481.2,308.0 481.8,308.0 482.5,308.1 C483.2,308.1 483.8,308.2 484.5,308.2 C485.2,308.3 485.8,308.3 486.5,308.3 C487.2,308.3 487.8,308.4 488.5,308.4 C489.2,308.4 489.8,308.4 490.5,308.4 C491.2,308.4 491.8,308.4 492.5,308.4 C493.2,308.5 493.8,308.5 494.5,308.5 C495.2,308.5 495.8,308.5 496.5,308.5 C497.2,308.5 497.8,308.5 498.5,308.6 C499.2,308.6 499.8,308.6 500.5,308.6 C501.2,308.6 501.8,308.7 502.5,308.7 C503.2,308.7 503.8,308.8 504.5,308.8 C505.2,308.9 505.8,308.9 506.5,308.9 C507.2,309.0 507.8,309.0 508.5,309.0 C509.2,309.0 509.8,309.1 510.5,309.1 C511.2,309.1 511.8,309.1 512.5,309.1 C513.2,309.1 513.8,309.1 514.5,309.2 C515.2,309.2 515.8,309.2 516.5,309.2 C517.2,309.2 517.8,309.2 518.5,309.3 C519.2,309.3 519.8,309.3 520.5,309.3 C521.2,309.3 521.8,309.4 522.5,309.4 C523.2,309.4 523.8,309.5 524.5,309.5 C525.2,309.5 525.8,309.6 526.5,309.6 C527.2,309.7 527.8,309.7 528.5,309.7 C529.2,309.8 529.8,309.8 530.5,309.9 C531.2,309.9 531.8,310.0 532.5,310.0 C533.2,310.1 533.8,310.1 534.5,310.2 C535.2,310.2 535.8,310.3 536.5,310.3 C537.2,310.4 537.8,310.4 538.5,310.5 C539.2,310.5 539.8,310.6 540.5,310.6 C541.2,310.7 541.8,310.8 542.5,310.8 C543.2,310.9 543.8,310.9 544.5,311.0 C545.2,311.1 545.8,311.1 546.5,311.2 C547.2,311.2 547.8,311.3 548.5,311.4 C549.2,311.4 549.8,311.5 550.5,311.5 C551.2,311.6 551.8,311.7 552.5,311.7 C553.2,311.8 553.8,311.8 554.5,311.9 C555.2,311.9 555.8,312.0 556.5,312.1 C557.2,312.1 557.8,312.2 558.5,312.2 C559.2,312.3 559.8,312.3 560.5,312.4 C561.2,312.4 561.8,312.5 562.5,312.6 C563.2,312.6 563.8,312.7 564.5,312.7 C565.2,312.8 565.8,312.8 566.5,312.9 C567.2,312.9 567.8,313.0 568.5,313.0 C569.2,313.1 569.8,313.1 570.5,313.2 C571.2,313.2 571.8,313.3 572.5,313.4 C573.2,313.4 573.8,313.5 574.5,313.5 C575.2,313.6 575.8,313.7 576.5,313.8 C577.2,313.8 577.8,313.9 578.5,314.0 C579.2,314.1 579.8,314.2 580.5,314.3 C581.2,314.4 581.8,314.5 582.5,314.6 C583.2,314.7 583.8,314.8 584.5,314.9 C585.2,315.0 585.8,315.2 586.5,315.3 C587.2,315.4 587.8,315.6 588.5,315.7 C589.2,315.9 589.8,316.0 590.5,316.2 C591.2,316.4 591.8,316.6 592.5,316.7 C593.2,316.9 593.8,317.1 594.5,317.3 C595.2,317.4 595.8,317.6 596.5,317.8 C597.2,318.0 597.8,318.1 598.5,318.3 C599.2,318.5 599.8,318.7 600.5,318.9 C601.2,319.0 601.8,319.2 602.5,319.4 C603.2,319.6 603.8,319.8 604.5,320.0 C605.2,320.2 605.8,320.4 606.5,320.6 C607.2,320.8 607.8,321.0 608.5,321.1 C609.2,321.3 609.8,321.5 610.5,321.7 C611.2,321.9 611.8,322.1 612.5,322.4 C613.2,322.6 613.8,322.8 614.5,323.0 C615.2,323.2 615.8,323.5 616.5,323.7 C617.2,324.0 617.8,324.2 618.5,324.5 C619.2,324.8 619.8,325.1 620.5,325.4 C621.2,325.7 622.2,326.2 622.5,326.4" stroke="#dc0a1e" stroke-width="2.8" stroke-dasharray="13.2 8.5" stroke-dashoffset="14.7" stroke-linecap="round"/>
</g>
<g fill="none">
<line x1="81.9" y1="48.5" x2="81.9" y2="427.0" stroke="#4a4a4a" stroke-width="2.5"/>
<line x1="80.5" y1="427.0" x2="622.5" y2="427.0" stroke="#404040" stroke-width="2.6"/>
<line x1="80.5" y1="48.6" x2="623.7" y2="48.6" stroke="#000" stroke-width="2.2"/>
<line x1="622.5" y1="48.5" x2="622.5" y2="428.3" stroke="#000" stroke-width="2.4"/>
</g>
<g font-size="20" fill="#000">
<text x="65.5" y="54.90" text-anchor="end">32</text>
<text x="65.5" y="118.00" text-anchor="end">30</text>
<text x="65.5" y="181.10" text-anchor="end">28</text>
<text x="65.5" y="244.20" text-anchor="end">26</text>
<text x="65.5" y="307.30" text-anchor="end">24</text>
<text x="65.5" y="370.40" text-anchor="end">22</text>
<text x="65.5" y="433.50" text-anchor="end">20</text>
<text x="82.50" y="456.8" text-anchor="middle">2300</text>
<text x="142.50" y="456.8" text-anchor="middle">2600</text>
<text x="202.50" y="456.8" text-anchor="middle">2900</text>
<text x="262.50" y="456.8" text-anchor="middle">3200</text>
<text x="322.50" y="456.8" text-anchor="middle">3500</text>
<text x="382.50" y="456.8" text-anchor="middle">3800</text>
<text x="442.50" y="456.8" text-anchor="middle">4100</text>
<text x="502.50" y="456.8" text-anchor="middle">4400</text>
<text x="562.50" y="456.8" text-anchor="middle">4700</text>
<text x="622.50" y="456.8" text-anchor="middle">5000</text>
<text x="352.5" y="482.6" text-anchor="middle">Frequency (MHz)</text>
<text transform="translate(27.5,242.3) rotate(-90)" text-anchor="middle">Gain (dB)</text>
</g>
<text x="249" y="34.8" font-size="24" fill="#000" textLength="203" lengthAdjust="spacingAndGlyphs">Gain vs. Frequency</text>
<g font-size="18">
<text x="454" y="124" fill="#dc1c28">+105 °C</text>
<text x="453.8" y="151.2" fill="#000">+25 °C</text>
<text x="457.3" y="179" fill="#246aaa">-40 °C</text>
</g>
</svg>
</body></html>
